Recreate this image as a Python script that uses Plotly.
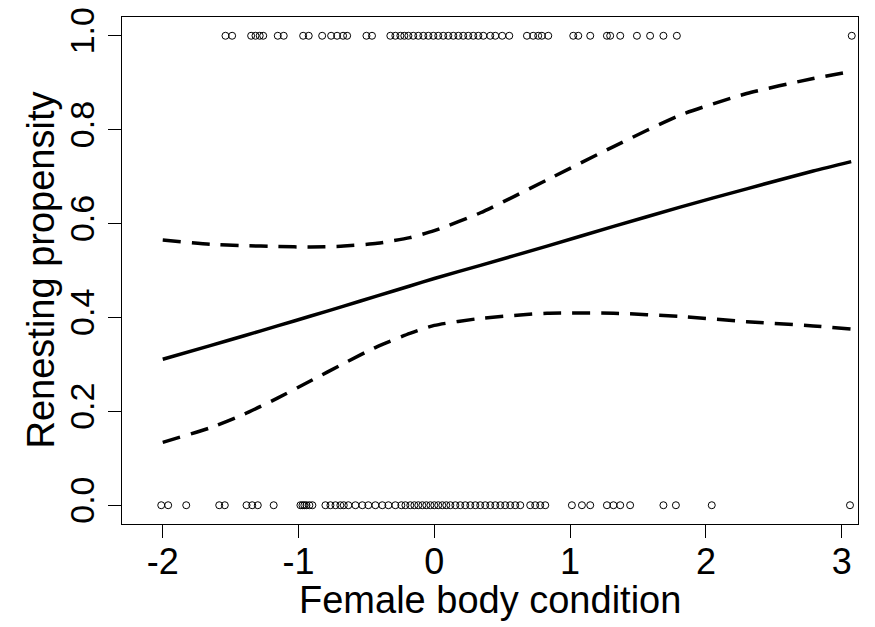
import plotly.graph_objects as go

# Observed data: renested (1) and not renested (0)
x_renest = [-1.538, -1.489, -1.349, -1.317, -1.286, -1.260, -1.153, -1.109, -0.966, -0.925,
            -0.826, -0.760, -0.716, -0.672, -0.642, -0.500, -0.459, -0.324, -0.287, -0.250,
            -0.221, -0.191, -0.155, -0.118, -0.081, -0.044, -0.007, 0.029, 0.066, 0.103,
            0.140, 0.177, 0.213, 0.250, 0.287, 0.324, 0.361, 0.412, 0.449, 0.500,
            0.552, 0.682, 0.728, 0.765, 0.792, 0.839, 1.023, 1.060, 1.148, 1.271,
            1.295, 1.369, 1.492, 1.589, 1.687, 1.786, 3.074]
x_none = [-2.011, -1.960, -1.827, -1.584, -1.543, -1.383, -1.341, -1.300, -1.183, -0.986,
          -0.971, -0.957, -0.942, -0.920, -0.898, -0.802, -0.765, -0.728, -0.692, -0.667,
          -0.633, -0.581, -0.530, -0.486, -0.434, -0.383, -0.338, -0.287, -0.243, -0.213,
          -0.177, -0.147, -0.118, -0.088, -0.059, -0.029, 0.000, 0.029, 0.059, 0.088,
          0.118, 0.155, 0.191, 0.228, 0.265, 0.302, 0.338, 0.375, 0.412, 0.449,
          0.486, 0.522, 0.559, 0.596, 0.633, 0.706, 0.743, 0.780, 0.817, 1.013,
          1.087, 1.148, 1.271, 1.319, 1.369, 1.442, 1.687, 1.779, 2.043, 3.061]

# Fitted curve and confidence band
x_fit = [-2.0, -1.65, -1.4, -1.155, -0.91, -0.667, -0.42, -0.18, 0.0, 0.34,
         0.83, 1.32, 1.81, 2.30, 2.79, 3.07]
y_fit = [0.311, 0.340, 0.361, 0.382, 0.403, 0.424, 0.446, 0.467, 0.483, 0.511,
         0.552, 0.594, 0.635, 0.674, 0.712, 0.732]
y_upper = [0.565, 0.556, 0.553, 0.551, 0.550, 0.552, 0.558, 0.570, 0.585, 0.623,
           0.693, 0.764, 0.831, 0.877, 0.909, 0.924]
y_lower = [0.134, 0.165, 0.194, 0.228, 0.265, 0.302, 0.338, 0.366, 0.383, 0.398,
           0.409, 0.409, 0.402, 0.391, 0.382, 0.375]

x_ticks = [-2, -1, 0, 1, 2, 3]
y_ticks = [0.0, 0.2, 0.4, 0.6, 0.8, 1.0]
y_tick_text = ["0.0", "0.2", "0.4", "0.6", "0.8", "1.0"]
x_title = "Female body condition"
y_title = "Renesting propensity"

marker = dict(symbol="circle-open", size=7, color="black", line=dict(width=1, color="black"))

fig = go.Figure()
fig.add_trace(go.Scatter(x=x_renest, y=[1] * len(x_renest), mode="markers", marker=marker))
fig.add_trace(go.Scatter(x=x_none, y=[0] * len(x_none), mode="markers", marker=marker))
fig.add_trace(go.Scatter(x=x_fit, y=y_fit, mode="lines",
                         line=dict(color="black", width=3.5, shape="spline", smoothing=0.6)))
fig.add_trace(go.Scatter(x=x_fit, y=y_upper, mode="lines",
                         line=dict(color="black", width=3.5, dash="18px,11px", shape="spline", smoothing=0.6)))
fig.add_trace(go.Scatter(x=x_fit, y=y_lower, mode="lines",
                         line=dict(color="black", width=3.5, dash="18px,11px", shape="spline", smoothing=0.6)))

font = "Liberation Sans, Arial, sans-serif"
fig.update_layout(
    width=867, height=619,
    margin=dict(l=114, r=17, t=9, b=103),
    paper_bgcolor="white", plot_bgcolor="white",
    showlegend=False,
    font=dict(family=font, color="black"),
    xaxis=dict(range=[-2.30, 3.12], tickvals=x_ticks, ticktext=[str(v) for v in x_ticks],
               showline=True, mirror=True, linecolor="black", linewidth=1,
               ticks="outside", ticklen=13, tickcolor="black", tickwidth=1,
               showgrid=False, zeroline=False, tickfont=dict(size=36),
               ticklabelstandoff=-7, ticklabeloverflow="allow", automargin=False),
    yaxis=dict(range=[-0.04, 1.04], tickvals=y_ticks, ticktext=y_tick_text, tickangle=-90,
               showline=True, mirror=True, linecolor="black", linewidth=1,
               ticks="outside", ticklen=13, tickcolor="black", tickwidth=1,
               showgrid=False, zeroline=False, tickfont=dict(size=34),
               ticklabeloverflow="allow", automargin=False),
    annotations=[
        dict(text=x_title, xref="paper", yref="paper", x=0.5, y=0, xanchor="center",
             yanchor="middle", yshift=-76, showarrow=False, font=dict(size=38)),
        dict(text=y_title, xref="paper", yref="paper", x=0, y=0.5, xanchor="center",
             yanchor="middle", xshift=-82, textangle=-90, showarrow=False, font=dict(size=38)),
    ],
)

fig.write_html("out.html")
